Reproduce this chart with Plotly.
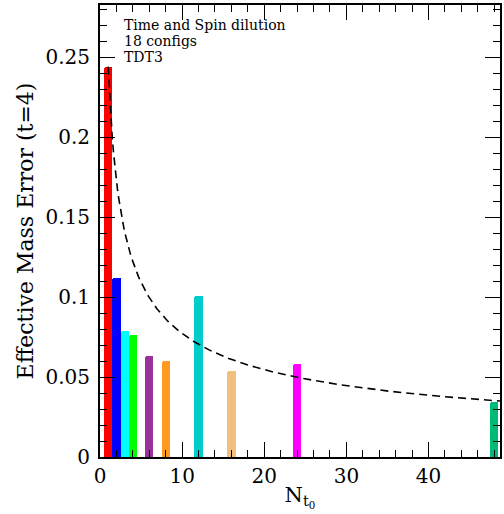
import numpy as np
import plotly.graph_objects as go

# Data
n_t0 = [1, 2, 3, 4, 6, 8, 12, 16, 24, 48]
mass_err = [0.244, 0.112, 0.079, 0.0762, 0.0631, 0.060, 0.1006, 0.0537, 0.058, 0.0344]
bar_colors = ["#ff0000", "#0000ff", "#00ffff", "#00ff00", "#993399", "#ff9922",
              "#00cccc", "#f0c080", "#ff00ff", "#00bb77"]
notes = ["Time and Spin dilution", "18 configs", "TDT3"]

# reference 1/sqrt(N) scaling from the single-source error
xs = np.linspace(1, 48.7, 300)
ys = mass_err[0] / np.sqrt(xs)

FONT = "DejaVu Serif"

fig = go.Figure()
fig.add_trace(go.Bar(x=n_t0, y=mass_err, width=1.0,
                     marker=dict(color=bar_colors, line=dict(width=0)),
                     showlegend=False))
fig.add_trace(go.Scatter(x=xs, y=ys, mode="lines",
                         line=dict(color="black", width=1.6, dash="8px,5px"),
                         showlegend=False))

for i, t in enumerate(notes):
    fig.add_annotation(x=0, y=1, xref="paper", yref="paper", xanchor="left", yanchor="middle",
                       xshift=22, yshift=-20 - 16 * i, text=t, showarrow=False,
                       font=dict(family=FONT, size=14, color="black"))

axis_common = dict(showline=True, linecolor="black", linewidth=2, mirror="ticks",
                   ticks="inside", tickcolor="black", tickwidth=1, showgrid=False,
                   zeroline=False, tickfont=dict(family=FONT, size=20, color="black"))

fig.update_xaxes(range=[0, 48.7], dtick=10, tick0=0, ticklen=15,
                 minor=dict(dtick=2, ticklen=7, ticks="inside", tickcolor="black", showgrid=False),
                 title=dict(text="N<sub>t<sub>0</sub></sub>", font=dict(family=FONT, size=21, color="black"),
                            standoff=0),
                 **axis_common)
fig.update_yaxes(range=[0, 0.2825], dtick=0.05, tick0=0, ticklen=15, tickformat="~g",
                 ticklabelstandoff=4,
                 minor=dict(dtick=0.01, ticklen=7, ticks="inside", tickcolor="black", showgrid=False),
                 title=dict(text="Effective Mass Error (t=4)", font=dict(family=FONT, size=22, color="black"),
                            standoff=6),
                 **axis_common)

fig.update_layout(width=504, height=514, margin=dict(l=100, r=2, t=5, b=57),
                  plot_bgcolor="white", paper_bgcolor="white", bargap=0, barcornerradius=2)

fig.write_html("out.html")
